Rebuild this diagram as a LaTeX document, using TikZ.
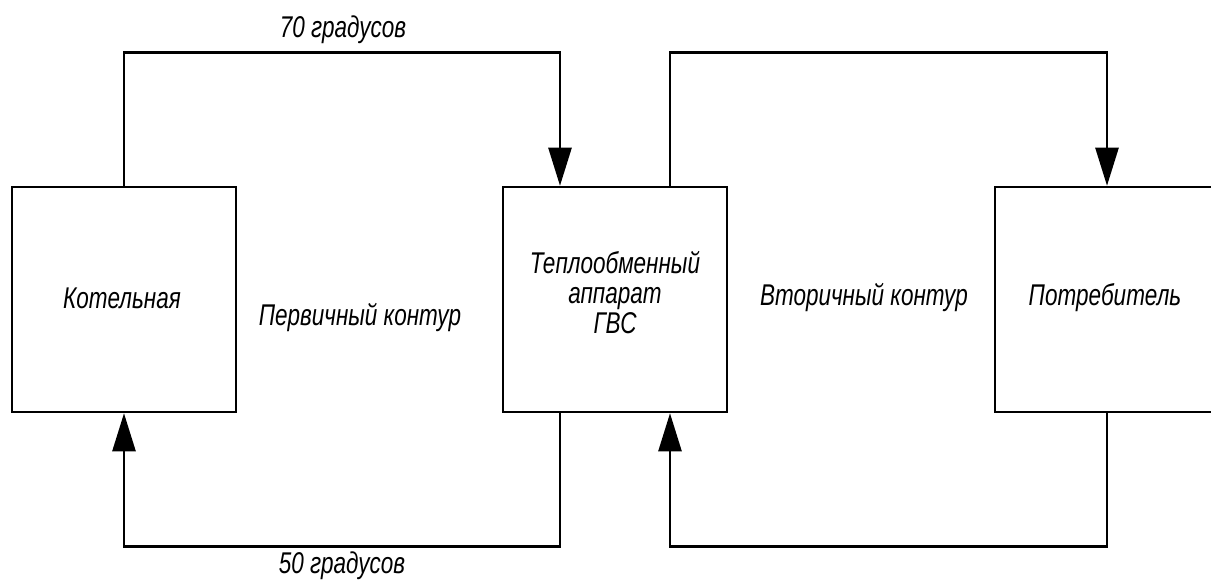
\documentclass[tikz,border=0pt]{standalone}
\usepackage{fontspec}
\setmainfont{Liberation Sans}[FakeStretch=0.75]
\usetikzlibrary{arrows.meta}

\tikzset{
  unitbox/.style={draw, line width=2.5pt, minimum width=224pt, minimum height=225pt, inner sep=0pt},
  flow/.style={line width=2.5pt, -{Triangle[length=38pt, width=23pt]}},
  lbl/.style={font=\itshape\fontsize{30}{30}\selectfont, align=center, inner sep=0pt}
}

\begin{document}
\begin{tikzpicture}[x=1pt, y=-1pt]
\useasboundingbox (0, 0) rectangle (1211, 583);

\node[unitbox] (boiler) at (124, 299.5) {};
\node[unitbox] (hx) at (615, 299.5) {};
\node[unitbox] (user) at (1107, 299.5) {};

\node[lbl] (boilerlbl) at (122, 298) {Котельная};
\node[lbl] (hxlbl) at (615, 293) {Теплообменный\\аппарат\\ГВС};
\node[lbl] (userlbl) at (1105, 298) {Потребитель};
\node[lbl] (primary) at (360, 318) {Первичный контур};
\node[lbl] (secondary) at (864, 298) {Вторичный контур};
\node[lbl] (hot) at (343, 30) {70 градусов};
\node[lbl] (cold) at (342, 566) {50 градусов};

% primary loop
\draw[flow] (boiler.north) -- ++(0, -133) -| ([xshift=-55pt]hx.north);
\draw[flow] ([xshift=-55pt]hx.south) -- ++(0, 133) -| (boiler.south);

% secondary loop
\draw[flow] ([xshift=55pt]hx.north) -- ++(0, -133) -| (user.north);
\draw[flow] (user.south) -- ++(0, 133) -| ([xshift=55pt]hx.south);
\end{tikzpicture}
\end{document}
